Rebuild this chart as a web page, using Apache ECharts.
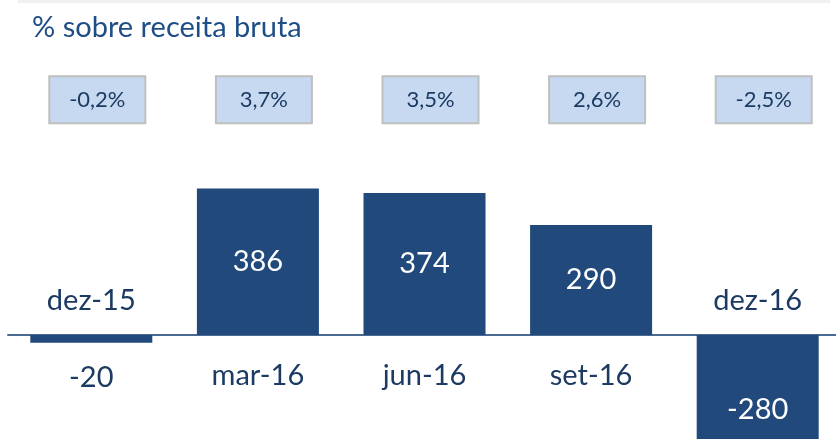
<!DOCTYPE html>
<html>
<head>
<meta charset="utf-8">
<script src="https://cdn.jsdelivr.net/npm/echarts@6/dist/echarts.min.js"></script>
<style>
  html, body { margin: 0; padding: 0; background: #fff; }
  #main { width: 836px; height: 439px; }
</style>
</head>
<body>
<div id="main"></div>
<script>
var categories = ['dez-15', 'mar-16', 'jun-16', 'set-16', 'dez-16'];
var values = [-20, 386, 374, 290, -280];
var margins = ['-0,2%', '3,7%', '3,5%', '2,6%', '-2,5%'];
var boxLevel = 620;

var FONT = 'Lato';
var DARK = '#1D3A62';
var BAR = '#21497B';

var myChart = echarts.init(document.getElementById('main'));

var barData = values.map(function (v) {
  var lbl;
  if (v >= 0) {
    lbl = { position: 'inside' };
  } else if (v > -50) {
    lbl = { position: 'bottom', distance: 20, color: DARK };
  } else {
    lbl = { position: 'insideBottom', distance: 17 };
  }
  return { value: v, label: lbl };
});

var nameData = categories.map(function (c, i) {
  return {
    value: [c, 0],
    label: values[i] < 0
      ? { position: 'top', distance: 20 }
      : { position: 'bottom', distance: 26 }
  };
});

var boxData = categories.map(function (c, i) {
  return { value: [c, boxLevel], name: margins[i] };
});

var option = {
  animation: false,
  title: {
    text: '% sobre receita bruta',
    left: 27,
    top: 8,
    textStyle: { fontFamily: FONT, fontSize: 29, fontWeight: 'normal', color: '#1F4E86' }
  },
  graphic: [{
    type: 'rect',
    shape: { x: 18, y: 0, width: 812, height: 3 },
    style: { fill: '#F0F0F0' },
    silent: true
  }],
  grid: { left: 8, width: 833, top: 1, height: 448, outerBoundsMode: 'none', containLabel: false },
  xAxis: {
    type: 'category',
    data: categories,
    boundaryGap: true,
    axisLine: { lineStyle: { color: '#4A6A93', width: 2 } },
    axisTick: { show: false },
    axisLabel: { show: false }
  },
  yAxis: {
    type: 'value',
    min: -300,
    max: 880,
    show: false,
    splitLine: { show: false }
  },
  series: [
    {
      name: 'valor',
      type: 'bar',
      barWidth: 122,
      itemStyle: { color: BAR },
      label: {
        show: true,
        color: '#fff',
        fontFamily: FONT,
        fontSize: 29
      },
      data: barData
    },
    {
      name: 'categoria',
      type: 'scatter',
      symbolSize: 0,
      itemStyle: { opacity: 1 },
      label: {
        show: true,
        formatter: function (p) { return p.value[0]; },
        color: DARK,
        fontFamily: FONT,
        fontSize: 29
      },
      data: nameData
    },
    {
      name: 'margem',
      type: 'scatter',
      symbolSize: 0,
      itemStyle: { opacity: 1 },
      label: {
        show: true,
        position: 'inside',
        offset: [6, 0],
        formatter: '{b}',
        color: DARK,
        fontFamily: FONT,
        fontSize: 22,
        backgroundColor: '#C6D9F1',
        borderColor: '#BFBFBF',
        borderWidth: 2,
        width: 94,
        height: 45,
        lineHeight: 45,
        align: 'center',
        verticalAlign: 'middle'
      },
      data: boxData
    }
  ]
};

myChart.setOption(option);
</script>
</body>
</html>
